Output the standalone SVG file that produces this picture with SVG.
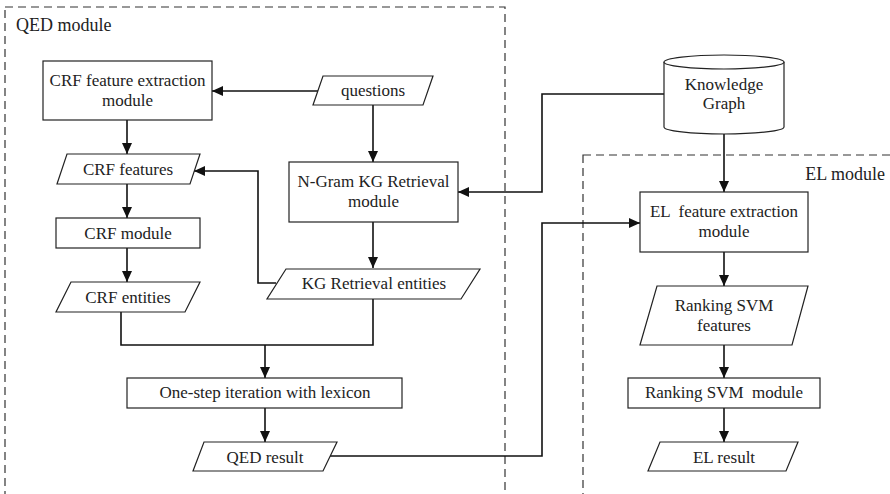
<svg xmlns="http://www.w3.org/2000/svg" width="890" height="494" viewBox="0 0 890 494">
<style>
.shape{fill:#fff;stroke:#222;stroke-width:1.2}
.mod{fill:none;stroke:#333;stroke-width:1.2;stroke-dasharray:8 5}
.t{font-family:"Liberation Serif","Times New Roman",serif;font-size:17px;fill:#222;text-anchor:middle}
.lbl{font-family:"Liberation Serif","Times New Roman",serif;font-size:18px;fill:#222}
.c{fill:none;stroke:#111;stroke-width:1.6}
.a{marker-end:url(#arr)}
</style>
<defs>
<marker id="arr" markerUnits="userSpaceOnUse" markerWidth="11" markerHeight="10" refX="11" refY="5" orient="auto">
<path d="M0,0 L11,5 L0,10 z" fill="#111"/>
</marker>
</defs>
<rect width="890" height="494" fill="#fff"/>
<g id="qed-module">
<rect class="mod" x="5" y="7" width="500" height="500"/>
<text class="lbl" x="16" y="31">QED module</text>
</g>
<g id="el-module">
<rect class="mod" x="583" y="155" width="320" height="360"/>
<text class="lbl" x="885" y="180" text-anchor="end">EL module</text>
</g>
<g id="connectors">
<path class="c a" d="M318,91 H212"/>
<path class="c a" d="M373,105 V162"/>
<path class="c a" d="M664,94 H542 V192 H458"/>
<path class="c a" d="M373,222 V268"/>
<path class="c a" d="M276,283 H258 V171 H194"/>
<path class="c a" d="M127,120 V154"/>
<path class="c a" d="M127,184 V218"/>
<path class="c a" d="M127,248 V282"/>
<path class="c" d="M121,312 V345 H373 V299"/>
<path class="c a" d="M265,345 V378"/>
<path class="c a" d="M265,408 V442"/>
<path class="c a" d="M330,456 H542 V223 H640"/>
<path class="c a" d="M724,134 V192"/>
<path class="c a" d="M724,252 V286"/>
<path class="c a" d="M724,345 V378"/>
<path class="c a" d="M724,408 V442"/>
</g>
<g id="crf-feature-extraction">
<rect class="shape" x="43" y="61" width="169" height="59"/>
<text class="t" x="127.5" y="86">CRF feature extraction</text>
<text class="t" x="127.5" y="106">module</text>
</g>
<g id="questions">
<polygon class="shape" points="323,76 433,76 423,105 313,105"/>
<text class="t" x="373" y="96">questions</text>
</g>
<g id="crf-features">
<polygon class="shape" points="67,154 200,154 190,184 57,184"/>
<text class="t" x="128" y="175">CRF features</text>
</g>
<g id="ngram-kg-retrieval">
<rect class="shape" x="289" y="162" width="169" height="60"/>
<text class="t" x="373.5" y="187">N-Gram KG Retrieval</text>
<text class="t" x="373.5" y="207">module</text>
</g>
<g id="crf-module">
<rect class="shape" x="56" y="218" width="144" height="30"/>
<text class="t" x="128" y="239">CRF module</text>
</g>
<g id="crf-entities">
<polygon class="shape" points="71,282 200,282 185,312 56,312"/>
<text class="t" x="128" y="303">CRF entities</text>
</g>
<g id="kg-retrieval-entities">
<polygon class="shape" points="286,269 480,269 461,299 267,299"/>
<text class="t" x="374" y="289">KG Retrieval entities</text>
</g>
<g id="one-step-iteration">
<rect class="shape" x="127" y="378" width="275" height="30"/>
<text class="t" x="265" y="398">One-step iteration with lexicon</text>
</g>
<g id="qed-result">
<polygon class="shape" points="204,442 337,442 323,471 193,471"/>
<text class="t" x="265" y="463">QED result</text>
</g>
<g id="knowledge-graph">
<path class="shape" d="M664,62 V127 A60,7 0 0,0 784,127 V62"/>
<ellipse class="shape" cx="724" cy="62" rx="60" ry="7"/>
<text class="t" x="724" y="90">Knowledge</text>
<text class="t" x="724" y="109">Graph</text>
</g>
<g id="el-feature-extraction">
<rect class="shape" x="640" y="192" width="168" height="60"/>
<text class="t" x="724" y="217" xml:space="preserve">EL  feature extraction</text>
<text class="t" x="724" y="237">module</text>
</g>
<g id="ranking-svm-features">
<polygon class="shape" points="657,286 808,286 792,345 640,345"/>
<text class="t" x="724" y="311">Ranking SVM</text>
<text class="t" x="724" y="331">features</text>
</g>
<g id="ranking-svm-module">
<rect class="shape" x="628" y="378" width="192" height="30"/>
<text class="t" x="724" y="398" xml:space="preserve">Ranking SVM  module</text>
</g>
<g id="el-result">
<polygon class="shape" points="660,442 798,442 786,471 648,471"/>
<text class="t" x="724" y="463">EL result</text>
</g>
</svg>
